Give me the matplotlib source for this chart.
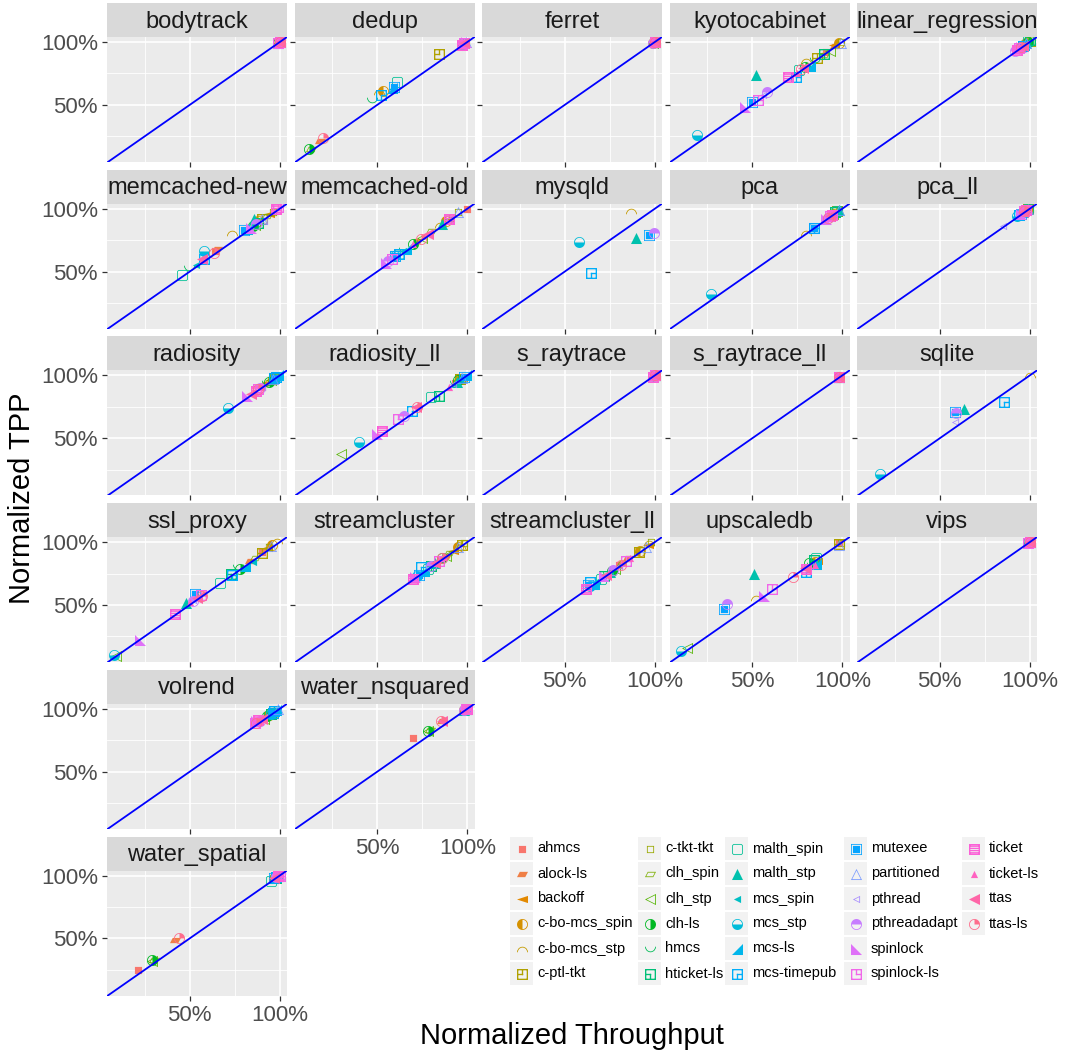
import numpy as np
import matplotlib
matplotlib.use("Agg")
import matplotlib.pyplot as plt
from matplotlib.textpath import TextPath
from matplotlib.path import Path
from matplotlib.font_manager import FontProperties
from matplotlib.patches import Rectangle

nan = np.nan

locks = ["ahmcs", "alock-ls", "backoff", "c-bo-mcs_spin", "c-bo-mcs_stp", "c-ptl-tkt",
         "c-tkt-tkt", "clh_spin", "clh_stp", "clh-ls", "hmcs", "hticket-ls",
         "malth_spin", "malth_stp", "mcs_spin", "mcs_stp", "mcs-ls", "mcs-timepub",
         "mutexee", "partitioned", "pthread", "pthreadadapt", "spinlock", "spinlock-ls",
         "ticket", "ticket-ls", "ttas", "ttas-ls"]
glyphs = ["▪", "▰", "◄", "◐", "◠", "◰", "▫", "▱", "◁", "◑", "◡", "◱",
          "▢", "▲", "◂", "◒", "◢", "◲", "▣", "△", "◃", "◓", "◣", "◳",
          "▤", "▴", "◀", "◔"]

apps = ["bodytrack", "dedup", "ferret", "kyotocabinet", "linear_regression",
        "memcached-new", "memcached-old", "mysqld", "pca", "pca_ll",
        "radiosity", "radiosity_ll", "s_raytrace", "s_raytrace_ll", "sqlite",
        "ssl_proxy", "streamcluster", "streamcluster_ll", "upscaledb", "vips",
        "volrend", "water_nsquared", "water_spatial"]

# normalized throughput / TPP per app, one value per lock (order of `locks`)
bodytrack_tput = [1.00, 1.00, 0.99, 1.00, 1.00, 0.99, 1.00, 1.00, 1.00, 0.99, 1.00, 1.00, 1.00, 0.99,
                  1.00, 1.00, 0.99, 1.00, 1.00, 1.00, 0.99, 1.00, 1.00, 0.99, 1.00, 1.00, 1.00, 1.00]
bodytrack_tpp = [1.00, 1.00, 0.99, 1.00, 1.00, 0.99, 1.00, 1.00, 1.00, 0.99, 1.00, 1.00, 1.00, 0.99,
                 1.00, 1.00, 0.99, 1.00, 1.00, 1.00, 0.99, 1.00, 1.00, 0.99, 1.00, 1.00, 1.00, 1.00]
dedup_tput = [0.97, 0.18, 0.98, 0.53, 0.51, 0.84, 0.99, 0.13, 0.97, 0.12, 0.47, 0.98, 0.61, 0.98,
              0.58, 0.97, 0.58, 0.52, 0.59, 0.99, 0.98, 0.97, 0.99, 0.98, 0.97, 0.99, 0.98, 0.20]
dedup_tpp = [0.98, 0.21, 0.99, 0.61, 0.60, 0.905, 1.00, 0.15, 0.98, 0.15, 0.54, 0.99, 0.68, 0.99,
             0.63, 0.98, 0.635, 0.58, 0.64, 1.00, 0.99, 0.98, 1.00, 0.99, 0.98, 1.00, 0.99, 0.24]
ferret_tput = [1.00, 1.00, 1.00, 0.99, 1.00, 1.00, 1.00, 1.00, 0.99, 1.00, 1.00, 1.00, 1.00, 1.00,
               0.99, 1.00, 1.00, 1.00, 1.00, 1.00, 1.00, 0.99, 1.00, 1.00, 1.00, 1.00, 1.00, 1.00]
ferret_tpp = [1.00, 1.00, 1.00, 0.99, 1.00, 1.00, 1.00, 1.00, 0.99, 1.00, 1.00, 1.00, 1.00, 1.00,
              0.99, 1.00, 1.00, 1.00, 1.00, 1.00, 1.00, 0.99, 1.00, 1.00, 1.00, 1.00, 1.00, 1.00]
kyotocabinet_tput = [0.91, 0.96, 0.956, 0.983, 0.80, 0.86, 0.99, 0.90, 0.93, 0.79, 0.85, 0.90, 0.76, 0.52,
                     0.80, 0.19, 0.82, 0.745, 0.50, 0.99, 0.56, 0.58, 0.46, 0.53, 0.70, 0.75, 0.78, 0.77]
kyotocabinet_tpp = [0.92, 0.97, 0.976, 0.99, 0.85, 0.87, 1.00, 0.90, 0.93, 0.80, 0.86, 0.905, 0.78, 0.74,
                    0.80, 0.26, 0.81, 0.72, 0.52, 0.99, 0.58, 0.60, 0.48, 0.54, 0.72, 0.75, 0.79, 0.785]
linear_regression_tput = [0.98, 0.97, 0.99, 0.98, 0.99, 1.00, 0.99, 0.98, 0.97, 0.99, 0.98, 1.00, 0.99, 0.98,
                          0.97, 0.96, 0.97, 0.96, 0.96, 0.98, 0.95, 0.92, 0.95, 0.94, 0.93, 0.95, 0.96, 0.95]
linear_regression_tpp = [0.99, 0.98, 1.00, 0.99, 1.00, 1.01, 1.00, 0.99, 0.98, 1.00, 0.99, 1.02, 1.01, 0.99,
                         0.98, 0.97, 0.98, 0.97, 0.97, 0.99, 0.96, 0.93, 0.96, 0.95, 0.94, 0.96, 0.97, 0.96]
memcached_new_tput = [0.64, 0.65, 0.94, 0.88, 0.733, 0.90, 0.96, 0.93, 0.86, 0.85, 0.494, 0.88, 0.456, 0.855,
                      0.533, 0.58, 0.82, 0.58, 0.80, 0.90, 0.91, 0.87, 0.84, 0.99, 0.98, 0.57, 0.567, 0.633]
memcached_new_tpp = [0.66, 0.68, 0.96, 0.90, 0.81, 0.92, 0.97, 0.94, 0.87, 0.86, 0.53, 0.89, 0.476, 0.92,
                     0.556, 0.665, 0.84, 0.60, 0.83, 0.92, 0.90, 0.88, 0.85, 1.01, 1.00, 0.59, 0.60, 0.65]
memcached_old_tput = [1.00, 0.72, 0.90, 0.88, 0.85, 0.90, 0.95, 0.80, 0.75, 0.70, 0.65, 0.62, 0.60, 0.86,
                      0.64, 0.60, 0.66, 0.62, 0.60, 0.95, 0.90, 0.56, 0.55, 0.58, 0.90, 0.70, 0.78, 0.74]
memcached_old_tpp = [1.00, 0.74, 0.92, 0.90, 0.87, 0.92, 0.97, 0.82, 0.77, 0.72, 0.67, 0.64, 0.62, 0.88,
                     0.66, 0.62, 0.68, 0.64, 0.62, 0.97, 0.92, 0.58, 0.57, 0.60, 0.92, 0.72, 0.80, 0.76]
mysqld_tput = [nan, nan, nan, nan, 0.867, nan, nan, nan, nan, nan, nan, nan, nan, 0.894,
               nan, 0.578, nan, 0.644, 0.97, nan, nan, 0.994, nan, nan, nan, nan, nan, nan]
mysqld_tpp = [nan, nan, nan, nan, 0.98, nan, nan, nan, nan, nan, nan, nan, nan, 0.77,
              nan, 0.738, nan, 0.49, 0.79, nan, nan, 0.81, nan, nan, nan, nan, nan, nan]
pca_tput = [0.95, 0.96, 0.97, 0.95, 0.80, 0.97, 0.98, 0.96, 0.95, 0.94, 0.93, 0.96, 0.97, 0.98,
            0.92, 0.27, 0.94, 0.84, 0.84, 0.98, 0.90, 0.92, 0.91, 0.93, 0.94, 0.95, 0.93, 0.92]
pca_tpp = [0.96, 0.97, 0.98, 0.96, 0.81, 0.98, 0.99, 0.97, 0.96, 0.95, 0.94, 0.97, 0.98, 0.99,
           0.93, 0.325, 0.95, 0.85, 0.85, 0.99, 0.91, 0.93, 0.92, 0.94, 0.95, 0.96, 0.94, 0.93]
pca_ll_tput = [0.97, 0.98, 0.99, 0.97, 0.98, 0.99, 1.00, 0.98, 0.97, 0.96, 0.95, 0.98, 0.99, 0.98,
               0.94, 0.93, 0.96, 0.94, 0.95, 0.99, 0.85, 0.96, 0.95, 0.97, 0.98, 0.97, 0.96, 0.97]
pca_ll_tpp = [0.98, 0.99, 1.00, 0.98, 0.99, 1.00, 1.00, 0.99, 0.98, 0.97, 0.96, 0.99, 1.00, 0.99,
              0.95, 0.94, 0.97, 0.95, 0.96, 1.00, 0.86, 0.97, 0.96, 0.98, 0.99, 0.98, 0.97, 0.98]
radiosity_tput = [0.90, 0.92, 0.95, 0.96, 0.94, 0.97, 0.98, 0.96, 0.95, 0.94, 0.93, 0.97, 0.98, 0.97,
                  0.96, 0.711, 0.99, 0.98, 0.97, 0.96, 0.90, 0.89, 0.82, 0.88, 0.87, 0.86, 0.84, 0.88]
radiosity_tpp = [0.91, 0.93, 0.96, 0.97, 0.95, 0.98, 0.99, 0.97, 0.96, 0.95, 0.94, 0.98, 0.99, 0.98,
                 0.97, 0.738, 1.00, 0.99, 0.98, 0.97, 0.91, 0.90, 0.84, 0.89, 0.88, 0.87, 0.85, 0.89]
radiosity_ll_tput = [0.93, 0.95, 0.97, 0.96, 0.95, 0.96, 0.98, 0.94, 0.30, 0.95, 0.93, 0.84, 0.80, 0.94,
                     0.96, 0.40, 0.99, 0.69, 0.98, 0.97, 0.92, 0.65, 0.50, 0.617, 0.528, 0.90, 0.717, 0.72]
radiosity_ll_tpp = [0.94, 0.96, 0.98, 0.97, 0.96, 0.97, 0.99, 0.95, 0.373, 0.96, 0.94, 0.84, 0.825, 0.95,
                    0.97, 0.468, 1.00, 0.72, 0.99, 0.98, 0.93, 0.68, 0.53, 0.65, 0.556, 0.91, 0.746, 0.75]
s_raytrace_tput = [1.00, 1.00, 1.00, 1.00, 0.99, 1.00, 1.00, 1.00, 1.00, 1.00, 0.99, 1.00, 1.00, 1.00,
                   1.00, 1.00, 1.00, 0.99, 1.00, 1.00, 1.00, 1.00, 1.00, 1.00, 0.99, 1.00, 1.00, 1.00]
s_raytrace_tpp = [1.00, 1.00, 1.00, 1.00, 0.99, 1.00, 1.00, 1.00, 1.00, 1.00, 0.99, 1.00, 1.00, 1.00,
                  1.00, 1.00, 1.00, 0.99, 1.00, 1.00, 1.00, 1.00, 1.00, 1.00, 0.99, 1.00, 1.00, 1.00]
s_raytrace_ll_tput = [0.98, 0.98, 0.98, 0.98, 0.98, 0.98, 0.98, 0.98, 0.98, 0.98, 0.98, 0.98, 0.98, 0.98,
                      0.98, 0.98, 0.98, 0.98, 0.98, 0.98, 0.98, 0.98, 0.98, 0.98, 0.98, 0.98, 0.98, 0.98]
s_raytrace_ll_tpp = [0.99, 0.99, 0.99, 0.99, 0.99, 0.99, 0.99, 0.99, 0.99, 0.99, 0.99, 0.99, 0.99, 0.99,
                     0.99, 0.99, 0.99, 0.99, 0.99, 0.99, 0.99, 0.99, 0.99, 0.99, 0.99, 0.99, 0.99, 0.99]
sqlite_tput = [nan, nan, nan, nan, 1.00, nan, nan, nan, nan, nan, nan, nan, nan, 0.633,
               nan, 0.167, nan, 0.855, 0.583, nan, 0.583, 0.59, nan, nan, nan, nan, nan, nan]
sqlite_tpp = [nan, nan, nan, nan, 1.00, nan, nan, nan, nan, nan, nan, nan, nan, 0.73,
              nan, 0.214, nan, 0.786, 0.706, nan, 0.63, 0.70, nan, nan, nan, nan, nan, nan]
ssl_proxy_tput = [0.90, 0.833, 0.928, 0.956, 0.983, 0.90, 0.94, 0.86, 0.09, 0.778, 0.77, 0.73, 0.667, 0.478,
                  0.85, 0.078, 0.806, 0.733, 0.528, 0.95, 0.52, 0.517, 0.222, 0.56, 0.417, 0.50, 0.54, 0.567]
ssl_proxy_tpp = [0.92, 0.85, 0.952, 0.976, 1.01, 0.913, 0.96, 0.87, 0.09, 0.786, 0.80, 0.75, 0.675, 0.516,
                 0.84, 0.103, 0.81, 0.738, 0.587, 0.97, 0.54, 0.53, 0.222, 0.58, 0.43, 0.52, 0.556, 0.571]
streamcluster_tput = [0.85, 0.88, 0.92, 0.95, 0.96, 0.97, 0.98, 0.90, 0.88, 0.86, 0.84, 0.80, 0.78, 0.82,
                      0.75, 0.72, 0.76, 0.74, 0.73, 0.95, 0.83, 0.80, 0.71, 0.84, 0.70, 0.87, 0.82, 0.86]
streamcluster_tpp = [0.86, 0.89, 0.93, 0.96, 0.97, 0.98, 0.99, 0.91, 0.89, 0.87, 0.85, 0.81, 0.79, 0.83,
                     0.76, 0.73, 0.77, 0.80, 0.74, 0.96, 0.84, 0.81, 0.72, 0.85, 0.71, 0.88, 0.83, 0.87]
streamcluster_ll_tput = [0.80, 0.85, 0.96, 0.92, 0.97, 0.91, 0.98, 0.82, 0.78, 0.76, 0.74, 0.72, 0.70, 0.75,
                         0.68, 0.64, 0.66, 0.64, 0.63, 0.95, 0.80, 0.77, 0.72, 0.84, 0.62, 0.86, 0.73, 0.81]
streamcluster_ll_tpp = [0.82, 0.87, 0.98, 0.93, 0.99, 0.92, 1.00, 0.83, 0.79, 0.77, 0.75, 0.73, 0.71, 0.76,
                        0.69, 0.65, 0.67, 0.68, 0.66, 0.96, 0.81, 0.78, 0.73, 0.85, 0.63, 0.87, 0.74, 0.82]
upscaledb_tput = [0.983, 0.85, 0.86, 0.85, 0.522, 0.983, 0.99, 0.84, 0.139, 0.817, 0.83, 0.84, 0.856, 0.511,
                  0.84, 0.106, 0.856, 0.80, 0.344, 0.98, 0.82, 0.361, 0.567, 0.611, 0.80, 0.85, 0.79, 0.728]
upscaledb_tpp = [0.99, 0.84, 0.85, 0.84, 0.556, 0.984, 0.99, 0.83, 0.159, 0.83, 0.82, 0.86, 0.873, 0.746,
                 0.83, 0.135, 0.825, 0.762, 0.468, 0.98, 0.81, 0.508, 0.571, 0.627, 0.79, 0.82, 0.794, 0.722]
vips_tput = [1.00, 1.00, 1.00, 1.00, 1.00, 0.99, 1.00, 1.00, 1.00, 1.00, 1.00, 0.99, 1.00, 1.00,
             1.00, 1.00, 1.00, 0.99, 1.00, 1.00, 1.00, 1.00, 1.00, 0.99, 1.00, 1.00, 1.00, 1.00]
vips_tpp = [1.00, 1.00, 1.00, 1.00, 1.00, 0.99, 1.00, 1.00, 1.00, 1.00, 1.00, 0.99, 1.00, 1.00,
            1.00, 1.00, 1.00, 0.99, 1.00, 1.00, 1.00, 1.00, 1.00, 0.99, 1.00, 1.00, 1.00, 1.00]
volrend_tput = [0.90, 0.91, 0.93, 0.94, 0.95, 0.96, 0.97, 0.92, 0.91, 0.93, 0.94, 0.95, 0.96, 0.97,
                0.96, 0.95, 0.98, 0.97, 0.96, 0.99, 0.88, 0.89, 0.87, 0.86, 0.88, 0.89, 0.90, 0.87]
volrend_tpp = [0.92, 0.93, 0.94, 0.95, 0.96, 0.97, 0.98, 0.93, 0.92, 0.94, 0.95, 0.96, 0.97, 0.98,
               0.97, 0.96, 0.99, 0.98, 0.97, 1.00, 0.89, 0.90, 0.90, 0.89, 0.91, 0.90, 0.92, 0.89]
water_nsquared_tput = [0.70, 0.86, 0.99, 0.98, 1.00, 0.99, 1.00, 0.79, 0.78, 0.78, 0.99, 1.00, 0.99, 0.98,
                       0.99, 1.00, 0.99, 1.00, 0.99, 1.00, 0.99, 0.98, 1.00, 0.99, 1.00, 0.99, 0.86, 0.855]
water_nsquared_tpp = [0.77, 0.90, 1.00, 0.99, 1.00, 1.00, 1.00, 0.83, 0.82, 0.825, 1.00, 1.00, 1.00, 0.99,
                      1.00, 1.00, 1.00, 1.00, 1.00, 1.00, 1.00, 0.99, 1.00, 1.00, 1.00, 1.00, 0.90, 0.905]
water_spatial_tput = [0.211, 0.417, 0.98, 0.97, 0.99, 0.98, 1.00, 0.30, 0.29, 0.289, 0.97, 0.98, 0.95, 0.97,
                      0.96, 0.98, 0.99, 0.98, 0.97, 1.00, 0.99, 0.98, 0.99, 1.00, 0.99, 0.98, 0.97, 0.44]
water_spatial_tpp = [0.246, 0.484, 0.99, 0.98, 1.00, 0.99, 1.00, 0.33, 0.32, 0.325, 0.97, 0.98, 0.96, 0.98,
                     0.97, 0.99, 1.00, 0.99, 0.98, 1.00, 1.00, 0.99, 1.00, 1.00, 1.00, 0.99, 0.98, 0.50]

tput = [bodytrack_tput, dedup_tput, ferret_tput, kyotocabinet_tput, linear_regression_tput,
        memcached_new_tput, memcached_old_tput, mysqld_tput, pca_tput, pca_ll_tput,
        radiosity_tput, radiosity_ll_tput, s_raytrace_tput, s_raytrace_ll_tput, sqlite_tput,
        ssl_proxy_tput, streamcluster_tput, streamcluster_ll_tput, upscaledb_tput, vips_tput,
        volrend_tput, water_nsquared_tput, water_spatial_tput]
tpp = [bodytrack_tpp, dedup_tpp, ferret_tpp, kyotocabinet_tpp, linear_regression_tpp,
       memcached_new_tpp, memcached_old_tpp, mysqld_tpp, pca_tpp, pca_ll_tpp,
       radiosity_tpp, radiosity_ll_tpp, s_raytrace_tpp, s_raytrace_ll_tpp, sqlite_tpp,
       ssl_proxy_tpp, streamcluster_tpp, streamcluster_ll_tpp, upscaledb_tpp, vips_tpp,
       volrend_tpp, water_nsquared_tpp, water_spatial_tpp]


def hcl_hex(h, c=100.0, l=65.0):
    # polar Luv -> sRGB, same as R's hcl()
    hr = np.deg2rad(h)
    U, V = c * np.cos(hr), c * np.sin(hr)
    Xn, Yn, Zn = 95.047, 100.0, 108.883
    un = 4 * Xn / (Xn + 15 * Yn + 3 * Zn)
    vn = 9 * Yn / (Xn + 15 * Yn + 3 * Zn)
    Y = Yn * ((l + 16) / 116) ** 3
    u = U / (13 * l) + un
    v = V / (13 * l) + vn
    X = 9.0 * Y * u / (4 * v)
    Z = -X / 3 - 5 * Y + 3 * Y / v
    M = np.array([[3.240479, -1.537150, -0.498535],
                  [-0.969256, 1.875992, 0.041556],
                  [0.055648, -0.204043, 1.057311]])
    rgb = M @ np.array([X, Y, Z]) / 100.0
    rgb = np.where(rgb > 0.00304, 1.055 * np.abs(rgb) ** (1 / 2.4) - 0.055, 12.92 * rgb)
    return tuple(np.clip(rgb, 0, 1))


n = len(locks)
colors = [hcl_hex(h) for h in np.linspace(15, 375, n + 1)[:-1]]

glyph_font = FontProperties(family="DejaVu Sans")
BOX = 100.0
MOVE2 = [Path.MOVETO, Path.MOVETO]
ANCHOR = [[-BOX, -BOX], [BOX, BOX]]


def glyph_marker(ch):
    tp = TextPath((0, 0), ch, size=60, prop=glyph_font)
    ext = tp.get_extents()
    verts = tp.vertices - [(ext.x0 + ext.x1) / 2, (ext.y0 + ext.y1) / 2]
    # two invisible moveto corners keep every glyph on the same scale
    verts = np.vstack([verts, ANCHOR])
    codes = np.concatenate([tp.codes, MOVE2])
    return Path(verts, codes), ext.width


sq_w = glyph_marker("□")[1]
A = sq_w / 2
T = sq_w * 0.12


def bars_marker(rects):
    verts, codes = [], []
    for x0, y0, x1, y1 in rects:
        verts += [(x0, y0), (x1, y0), (x1, y1), (x0, y1), (x0, y0)]
        codes += [Path.MOVETO, Path.LINETO, Path.LINETO, Path.LINETO, Path.CLOSEPOLY]
    return Path(np.array(verts + ANCHOR), codes + MOVE2)


frame = [(-A, -A, A, -A + T), (-A, A - T, A, A), (-A, -A, -A + T, A), (A - T, -A, A, A)]
h = T / 2
vert_up, vert_down = (-h, -h, h, A), (-h, -A, h, h)
horz_left, horz_right = (-A, -h, h, h), (-h, -h, A, h)
# squares with a marked quadrant and the lined square are built by hand
drawn = {
    "◰": frame + [vert_up, horz_left],
    "◱": frame + [vert_down, horz_left],
    "◲": frame + [vert_down, horz_right],
    "◳": frame + [vert_up, horz_right],
    "▤": frame + [(-A, y - h, A, y + h) for y in np.linspace(-A, A, 6)[1:-1]],
}
markers = [bars_marker(drawn[g]) if g in drawn else glyph_marker(g)[0] for g in glyphs]
# a full square about 11 px wide
msize = (11 * 72 / 100 * 2 * BOX / sq_w) ** 2

plt.rcParams["font.family"] = ["Liberation Sans", "DejaVu Sans"]

W, H = 1073, 1056
fig = plt.figure(figsize=(W / 100, H / 100), dpi=100)
fig.patch.set_facecolor("white")


def px_axes(x, y, w, h):
    return fig.add_axes([x / W, 1 - (y + h) / H, w / W, h / H])


PW, PH, SH = 180, 125, 34
col_left = [107, 294.5, 482, 669.5, 857]
row_top = [37 + 166.7 * r for r in range(6)]
bottom_row = {0: 5, 1: 4, 2: 3, 3: 3, 4: 3}
grid_pos = [divmod(i, 5) for i in range(22)] + [(5, 0)]

for i, app in enumerate(apps):
    r, c = grid_pos[i]
    ax = px_axes(col_left[c], row_top[r], PW, PH)
    ax.set_facecolor("#EBEBEB")
    ax.set_xlim(0.04, 1.04)
    ax.set_ylim(0.045, 1.04)
    ax.set_xticks([0.5, 1.0])
    ax.set_yticks([0.5, 1.0])
    ax.set_xticks([0.25, 0.75], minor=True)
    ax.set_yticks([0.25, 0.75], minor=True)
    ax.grid(which="major", color="white", lw=1.2)
    ax.grid(which="minor", color="white", lw=0.6)
    ax.set_axisbelow(True)
    for s in ax.spines.values():
        s.set_visible(False)
    ax.tick_params(which="major", length=3.5, width=0.9, color="#333333",
                   labelsize=16, labelcolor="#4D4D4D", pad=3)
    ax.tick_params(which="minor", length=0)
    ax.set_xticklabels(["50%", "100%"])
    ax.set_yticklabels(["50%", "100%"])
    if c != 0:
        ax.tick_params(axis="y", labelleft=False)
    if r != bottom_row[c]:
        ax.tick_params(axis="x", labelbottom=False)

    xs, ys = tput[i], tpp[i]
    for k in range(n):
        ax.scatter([xs[k]], [ys[k]], marker=markers[k], s=msize, color=colors[k],
                   linewidths=0, snap=False, zorder=2)
    ax.axline((0, 0), slope=1, color="#0000FF", lw=1.3, zorder=3)

    sax = px_axes(col_left[c], row_top[r] - SH, PW, SH)
    sax.set_facecolor("#D9D9D9")
    sax.set_xticks([])
    sax.set_yticks([])
    for s in sax.spines.values():
        s.set_visible(False)
    sax.text(0.5, 0.45, app, ha="center", va="center", fontsize=17,
             color="#1A1A1A", transform=sax.transAxes, clip_on=True)

fig.text(22 / W, 1 - 498 / H, "Normalized TPP", rotation=90, ha="center", va="center",
         fontsize=21, color="black")
fig.text(572 / W, 1 - 1036 / H, "Normalized Throughput", ha="center", va="center",
         fontsize=21, color="black")

# legend, laid out in pixel coordinates
leg = fig.add_axes([0, 0, 1, 1])
leg.set_xlim(0, W)
leg.set_ylim(H, 0)
leg.axis("off")
leg.patch.set_alpha(0)
key_left = [510, 638, 725, 844, 962]
KEY = 23
for k, name in enumerate(locks):
    cc, rr = divmod(k, 6)
    kx, ky = key_left[cc], 837 + 25 * rr
    leg.add_patch(Rectangle((kx, ky), KEY, KEY, facecolor="#F2F2F2", edgecolor="none"))
    leg.scatter([kx + KEY / 2], [ky + KEY / 2], marker=markers[k], s=msize,
                color=colors[k], linewidths=0, snap=False)
    leg.text(kx + KEY + 4, ky + KEY / 2, name, ha="left", va="center",
             fontsize=10.5, color="black")

fig.savefig("out.png", dpi=100, facecolor="white")
